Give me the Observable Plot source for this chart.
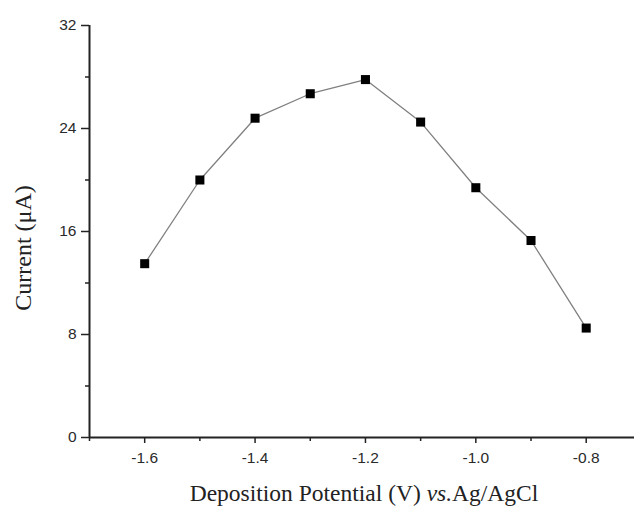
<!DOCTYPE html>
<html>
<head>
<meta charset="utf-8">
<script src="https://cdn.jsdelivr.net/npm/d3@7"></script>
<script src="https://cdn.jsdelivr.net/npm/@observablehq/plot@0.6"></script>
<style>
  html, body { margin: 0; padding: 0; background: #fff; }
  #chart { width: 634px; height: 507px; overflow: hidden; }
</style>
</head>
<body>
<div id="chart"></div>
<script>
const potentials = [-1.6, -1.5, -1.4, -1.3, -1.2, -1.1, -1.0, -0.9, -0.8];
const currents   = [13.5, 20.0, 24.8, 26.7, 27.8, 24.5, 19.4, 15.3, 8.5];
const xMajorTicks = [-1.6, -1.4, -1.2, -1.0, -0.8];
const xMinorTicks = [-1.7, -1.5, -1.3, -1.1, -0.9];
const yMajorTicks = [0, 8, 16, 24, 32];
const yMinorTicks = [4, 12, 20, 28];
const xDomain = [-1.7, -0.7125];
const yDomain = [0, 32];
const xTitle = "Deposition Potential (V) ";
const xTitleItalic = "vs.";
const xTitleEnd = "Ag/AgCl";
const yTitle = "Current (μA)";

const data = potentials.map((p, i) => ({potential: p, current: currents[i]}));

const tickFont = "Liberation Sans, Arial, sans-serif";
const plot = Plot.plot({
  width: 634,
  height: 507,
  marginLeft: 89,
  marginRight: 0,
  marginTop: 25,
  marginBottom: 70,
  style: {background: "#fff", fontFamily: tickFont, fontSize: "15.5px", color: "#222"},
  x: {domain: xDomain},
  y: {domain: yDomain},
  marks: [
    Plot.axisX({ticks: xMajorTicks, tickSize: 6, tickPadding: 8, tickFormat: d => d.toFixed(1), label: null, fontSize: 15.5, stroke: "#222", strokeWidth: 1.5, fill: "#2a2a2a"}),
    Plot.axisX({ticks: xMinorTicks, tickSize: 4, tickFormat: () => "", label: null, stroke: "#222", strokeWidth: 1.5}),
    Plot.axisY({ticks: yMajorTicks, tickSize: 8, tickPadding: 5, tickFormat: d => String(d), label: null, fontSize: 15.5, stroke: "#222", strokeWidth: 1.5, fill: "#2a2a2a"}),
    Plot.axisY({ticks: yMinorTicks, tickSize: 4, tickFormat: () => "", label: null, stroke: "#222", strokeWidth: 1.5}),
    Plot.ruleY([yDomain[0]], {stroke: "#222", strokeWidth: 2}),
    Plot.ruleX([xDomain[0]], {stroke: "#222", strokeWidth: 2}),
    Plot.line(data, {x: "potential", y: "current", stroke: "#808080", strokeWidth: 1.3}),
    Plot.dot(data, {x: "potential", y: "current", symbol: "square", fill: "#000", stroke: "none", r: 5.1})
  ]
});
document.getElementById("chart").appendChild(plot);

const svg = d3.select(plot);
svg.selectAll("g[aria-label$='tick label'] text, g[aria-label$='tick label']")
  .style("font-size", "15.5px");

const xt = svg.append("text")
  .attr("x", 364).attr("y", 501)
  .attr("text-anchor", "middle")
  .attr("font-family", "Liberation Serif, Times New Roman, serif")
  .attr("font-size", 23.5)
  .attr("fill", "#222");
xt.append("tspan").text(xTitle);
xt.append("tspan").attr("font-style", "italic").text(xTitleItalic);
xt.append("tspan").text(xTitleEnd);

svg.append("text")
  .attr("transform", "translate(31,248) rotate(-90)")
  .attr("text-anchor", "middle")
  .attr("font-family", "Liberation Serif, Times New Roman, serif")
  .attr("font-size", 24)
  .attr("fill", "#222")
  .text(yTitle);
</script>
</body>
</html>
